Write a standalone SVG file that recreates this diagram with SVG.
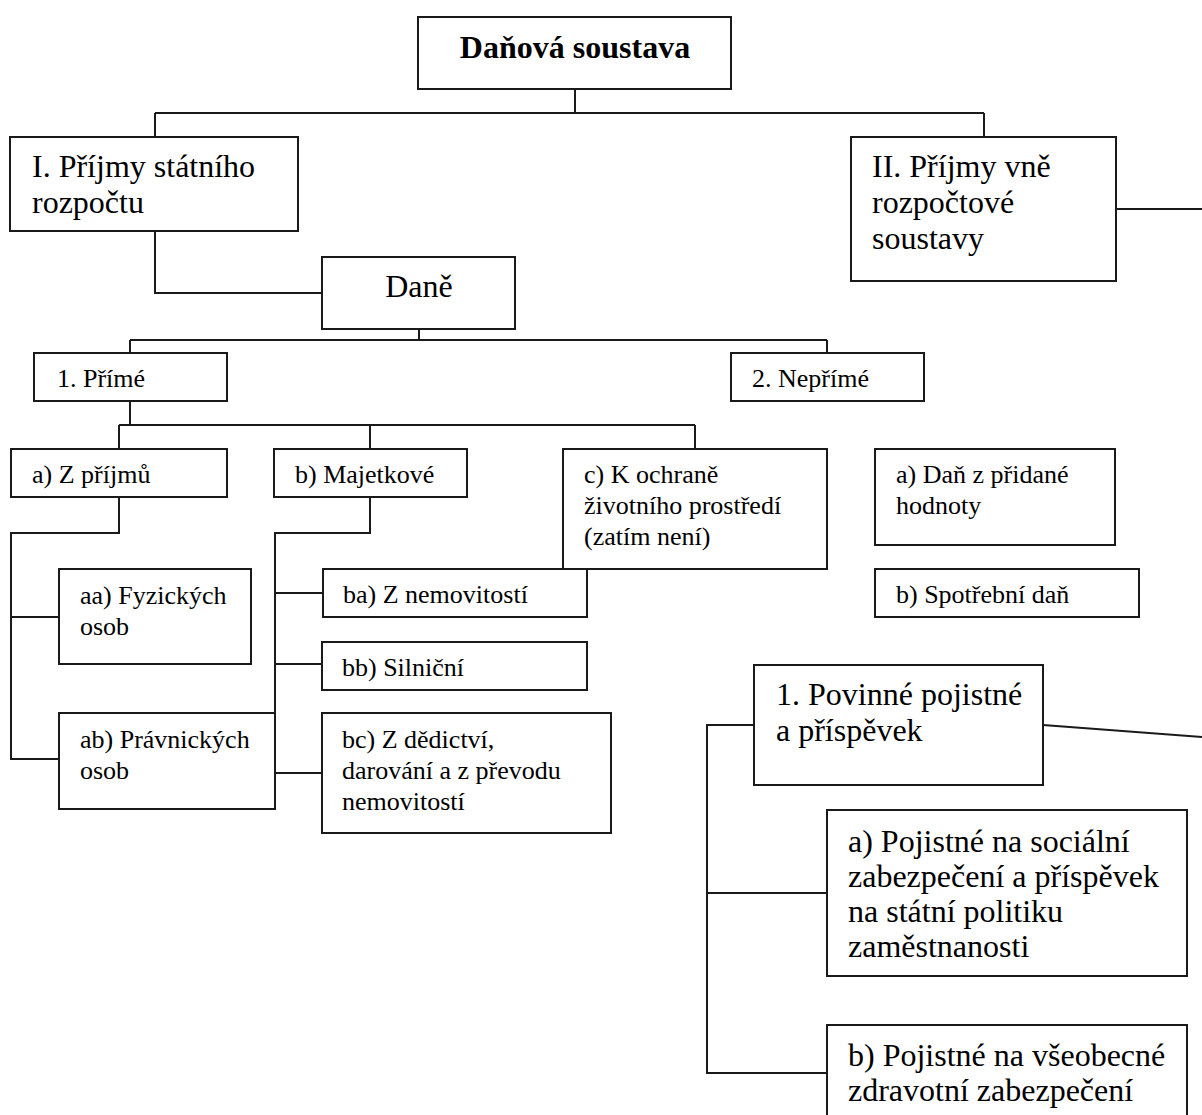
<svg xmlns="http://www.w3.org/2000/svg" width="1202" height="1115" viewBox="0 0 1202 1115">
<style>
  .box { fill: #ffffff; stroke: #1a1a1a; stroke-width: 2; }
  .ln { fill: none; stroke: #1a1a1a; stroke-width: 2; }
  text { font-family: "Liberation Serif", "Times New Roman", serif; fill: #000; }
  .big { font-size: 32px; }
  .sm { font-size: 26px; }
  .bold { font-weight: bold; }
</style>
<rect width="1202" height="1115" fill="#ffffff"/>
<g id="connectors">
  <path class="ln" d="M575,89 V113 M155,113 H984 M155,113 V137 M984,113 V137"/>
  <path class="ln" d="M155,231 V293 H322"/>
  <path class="ln" d="M1116,209 H1202"/>
  <path class="ln" d="M419,329 V340 M130,340 H827 M130,340 V353 M827,340 V353"/>
  <path class="ln" d="M130,401 V425 M119,425 H695 M119,425 V449 M370,425 V449 M695,425 V449"/>
  <path class="ln" d="M119,497 V533 H11 V759 H59 M11,617 H59"/>
  <path class="ln" d="M370,497 V533 H275 V809 M275,593 H323 M275,664 H322 M275,773 H322"/>
  <path class="ln" d="M1043,725 L1202,737"/>
  <path class="ln" d="M754,725 H707 V1073 H827 M707,893 H827"/>
</g>
<g id="n-root">
  <rect class="box" x="418" y="17" width="313" height="72"/>
  <text class="big bold" x="575" y="58" text-anchor="middle">Daňová soustava</text>
</g>
<g id="n-I">
  <rect class="box" x="10" y="137" width="288" height="94"/>
  <text class="big" x="32" y="177">I. Příjmy státního</text>
  <text class="big" x="32" y="213">rozpočtu</text>
</g>
<g id="n-II">
  <rect class="box" x="851" y="137" width="265" height="144"/>
  <text class="big" x="872" y="177">II. Příjmy vně</text>
  <text class="big" x="872" y="213">rozpočtové</text>
  <text class="big" x="872" y="249">soustavy</text>
</g>
<g id="n-dane">
  <rect class="box" x="322" y="257" width="193" height="72"/>
  <text class="big" x="419" y="297" text-anchor="middle">Daně</text>
</g>
<g id="n-prime">
  <rect class="box" x="34" y="353" width="193" height="48"/>
  <text class="sm" x="57" y="387">1. Přímé</text>
</g>
<g id="n-neprime">
  <rect class="box" x="731" y="353" width="193" height="48"/>
  <text class="sm" x="752" y="387">2. Nepřímé</text>
</g>
<g id="n-a-prijmu">
  <rect class="box" x="11" y="449" width="216" height="48"/>
  <text class="sm" x="32" y="483">a) Z příjmů</text>
</g>
<g id="n-b-majetkove">
  <rect class="box" x="274" y="449" width="193" height="48"/>
  <text class="sm" x="295" y="483">b) Majetkové</text>
</g>
<g id="n-c-ochrana">
  <rect class="box" x="563" y="449" width="264" height="120"/>
  <text class="sm" x="584" y="483">c) K ochraně</text>
  <text class="sm" x="584" y="514">životního prostředí</text>
  <text class="sm" x="584" y="545">(zatím není)</text>
</g>
<g id="n-dph">
  <rect class="box" x="875" y="449" width="240" height="96"/>
  <text class="sm" x="896" y="483">a) Daň z přidané</text>
  <text class="sm" x="896" y="514">hodnoty</text>
</g>
<g id="n-spotrebni">
  <rect class="box" x="875" y="569" width="264" height="48"/>
  <text class="sm" x="896" y="603">b) Spotřební daň</text>
</g>
<g id="n-aa">
  <rect class="box" x="59" y="569" width="192" height="95"/>
  <text class="sm" x="80" y="604">aa) Fyzických</text>
  <text class="sm" x="80" y="635">osob</text>
</g>
<g id="n-ab">
  <rect class="box" x="59" y="713" width="216" height="96"/>
  <text class="sm" x="80" y="748">ab) Právnických</text>
  <text class="sm" x="80" y="779">osob</text>
</g>
<g id="n-ba">
  <rect class="box" x="323" y="569" width="264" height="48"/>
  <text class="sm" x="343" y="603">ba) Z nemovitostí</text>
</g>
<g id="n-bb">
  <rect class="box" x="322" y="642" width="265" height="48"/>
  <text class="sm" x="342" y="676">bb) Silniční</text>
</g>
<g id="n-bc">
  <rect class="box" x="322" y="713" width="289" height="120"/>
  <text class="sm" x="342" y="748">bc) Z dědictví,</text>
  <text class="sm" x="342" y="779">darování a z převodu</text>
  <text class="sm" x="342" y="810">nemovitostí</text>
</g>
<g id="n-povinne">
  <rect class="box" x="754" y="665" width="289" height="120"/>
  <text class="big" x="776" y="705">1. Povinné pojistné</text>
  <text class="big" x="776" y="741">a příspěvek</text>
</g>
<g id="n-socialni">
  <rect class="box" x="827" y="810" width="360" height="166"/>
  <text class="big" x="848" y="852">a) Pojistné na sociální</text>
  <text class="big" x="848" y="887">zabezpečení a příspěvek</text>
  <text class="big" x="848" y="922">na státní politiku</text>
  <text class="big" x="848" y="957">zaměstnanosti</text>
</g>
<g id="n-zdravotni">
  <rect class="box" x="827" y="1025" width="360" height="110"/>
  <text class="big" x="848" y="1066">b) Pojistné na všeobecné</text>
  <text class="big" x="848" y="1101">zdravotní zabezpečení</text>
</g>
</svg>
